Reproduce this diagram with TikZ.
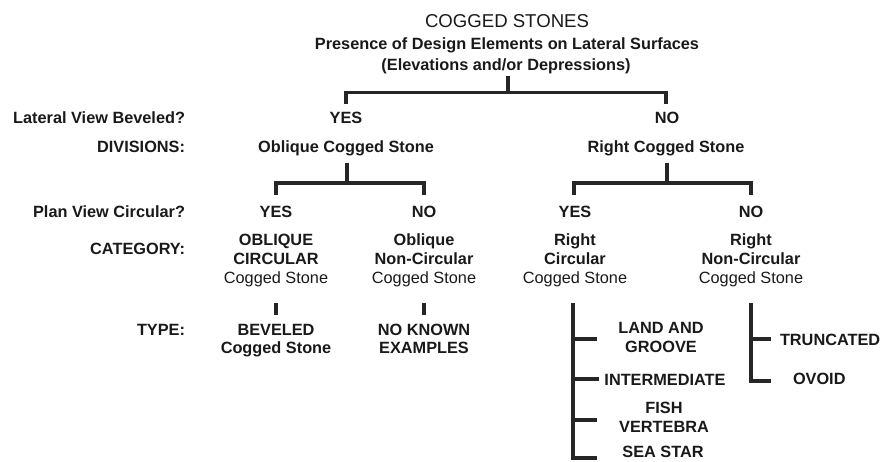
\documentclass[tikz,border=0pt]{standalone}
\usepackage{fontspec}
\setmainfont{Liberation Sans}
\begin{document}
\begin{tikzpicture}[x=1pt,y=-1pt,
  every node/.style={inner sep=0pt, outer sep=0pt, text=black!90},
  bl/.style={font=\fontsize{16.3}{19}\selectfont\bfseries, anchor=base},
  rg/.style={font=\fontsize{16.3}{19}\selectfont, anchor=base},
  rl/.style={font=\fontsize{16.3}{19}\selectfont\bfseries, anchor=base east},
  ll/.style={font=\fontsize{16.3}{19}\selectfont\bfseries, anchor=base west},
  ttl/.style={font=\fontsize{18.6}{22}\selectfont, anchor=base},
  conn/.style={line width=3.1pt, black!85, line cap=butt, line join=miter}]
\useasboundingbox (0,0) rectangle (886,461);
% titles
\node[ttl] (title) at (507,27) {COGGED STONES};
\node[bl] (sub1) at (507,49) {Presence of Design Elements on Lateral Surfaces};
\node[bl] (sub2) at (506,70) {(Elevations and/or Depressions)};
% row labels
\node[rl] (q1) at (185,123) {Lateral View Beveled?};
\node[rl] (div) at (185,152) {DIVISIONS:};
\node[rl] (q2) at (185,217) {Plan View Circular?};
\node[rl] (cat) at (185,254) {CATEGORY:};
\node[rl] (typ) at (185,335) {TYPE:};
% level 1
\node[bl] (yes1) at (346,123) {YES};
\node[bl] (no1) at (667,123) {NO};
\node[bl] (obl) at (346,152) {Oblique Cogged Stone};
\node[bl] (rgt) at (666,152) {Right Cogged Stone};
% level 2
\node[bl] (yes2) at (276,217) {YES};
\node[bl] (no2) at (424,217) {NO};
\node[bl] (yes3) at (575,217) {YES};
\node[bl] (no3) at (751,217) {NO};
% categories
\node[bl] (oc1) at (276,245) {OBLIQUE};
\node[bl] (oc2) at (276,264) {CIRCULAR};
\node[rg] (oc3) at (276,283) {Cogged Stone};
\node[bl] (on1) at (424,245) {Oblique};
\node[bl] (on2) at (424,264) {Non-Circular};
\node[rg] (on3) at (424,283) {Cogged Stone};
\node[bl] (rc1) at (575,245) {Right};
\node[bl] (rc2) at (575,264) {Circular};
\node[rg] (rc3) at (575,283) {Cogged Stone};
\node[bl] (rn1) at (751,245) {Right};
\node[bl] (rn2) at (751,264) {Non-Circular};
\node[rg] (rn3) at (751,283) {Cogged Stone};
% types
\node[bl] (bv1) at (276,335) {BEVELED};
\node[bl] (bv2) at (276,353) {Cogged Stone};
\node[bl] (nk1) at (424,335) {NO KNOWN};
\node[bl] (nk2) at (424,353) {EXAMPLES};
\node[bl] (lg1) at (661,333) {LAND AND};
\node[bl] (lg2) at (661,352) {GROOVE};
\node[bl] (im) at (665,385) {INTERMEDIATE};
\node[bl] (fv1) at (664,413) {FISH};
\node[bl] (fv2) at (664,432) {VERTEBRA};
\node[bl] (ss) at (663,457) {SEA STAR};
\node[ll] (tr) at (780,345) {TRUNCATED};
\node[ll] (ov) at (793,384) {OVOID};
% connector coordinates
\coordinate (t0) at (508,76);
\coordinate (t1) at (508,92.5);
\coordinate (tL) at (346,104);
\coordinate (tR) at (666,104);
\coordinate (o0) at (347,163);
\coordinate (o1) at (347,183);
\coordinate (oL) at (276,195);
\coordinate (oR) at (424,195);
\coordinate (r0) at (667,163);
\coordinate (r1) at (667,183);
\coordinate (rL) at (574,195);
\coordinate (rR) at (751,195);
\coordinate (b1a) at (276,303);
\coordinate (b1b) at (276,315);
\coordinate (b2a) at (424,303);
\coordinate (b2b) at (424,315);
\coordinate (v1a) at (573,303);
\coordinate (v2a) at (751,303);
\coordinate (e1) at (597,339);
\coordinate (e2) at (599,379);
\coordinate (e3) at (597,420);
\coordinate (e4) at (597,458);
\coordinate (f1) at (771,339);
\coordinate (f2) at (771,381);
% connectors
\draw[conn] (t0) -- (t1);
\draw[conn] (tL) |- (t1) -| (tR);
\draw[conn] (o0) -- (o1);
\draw[conn] (oL) |- (o1) -| (oR);
\draw[conn] (r0) -- (r1);
\draw[conn] (rL) |- (r1) -| (rR);
\draw[conn] (b1a) -- (b1b);
\draw[conn] (b2a) -- (b2b);
\draw[conn] (v1a) |- (e4);
\draw[conn] (v1a |- e1) -- (e1);
\draw[conn] (v1a |- e2) -- (e2);
\draw[conn] (v1a |- e3) -- (e3);
\draw[conn] (v2a) |- (f2);
\draw[conn] (v2a |- f1) -- (f1);
\end{tikzpicture}
\end{document}
